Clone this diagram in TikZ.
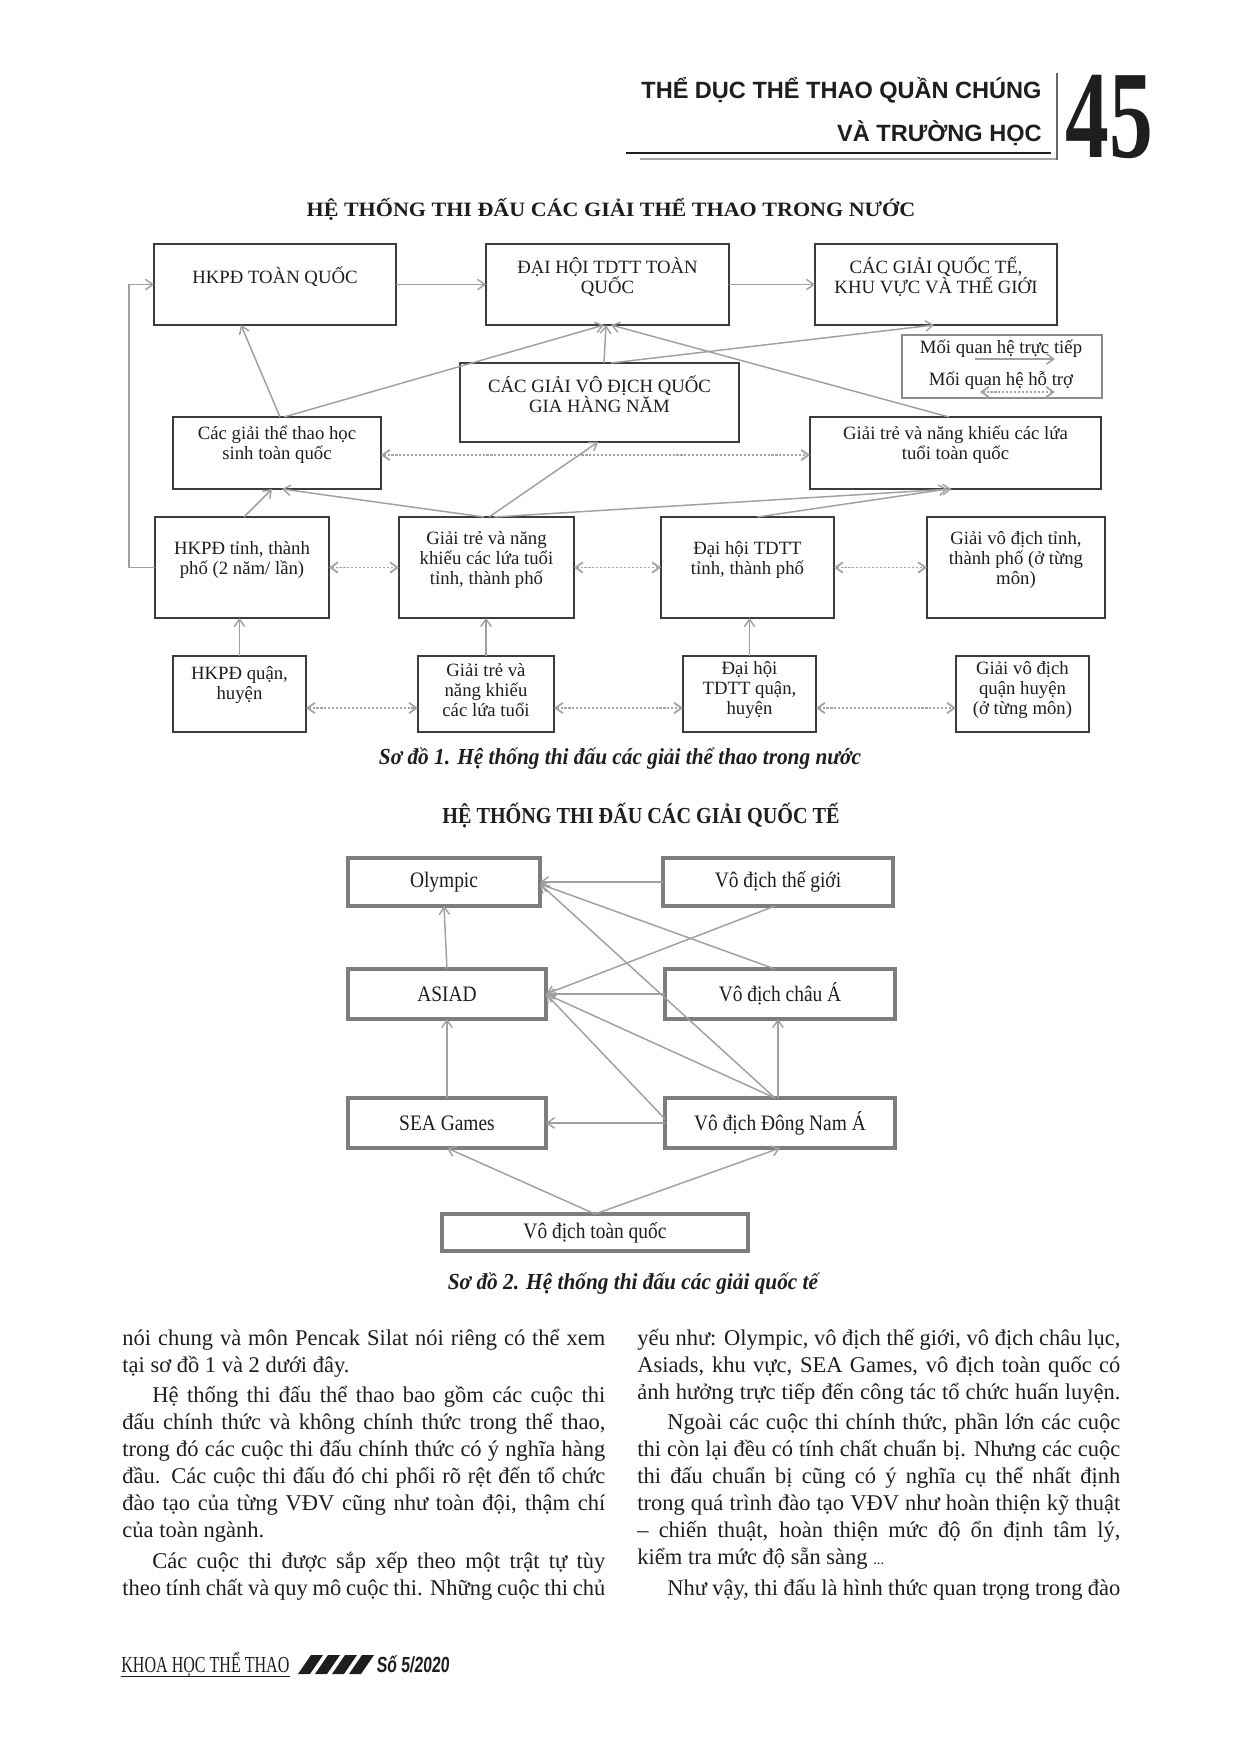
\documentclass[tikz,border=0pt]{standalone}
\usepackage{fontspec}
\setmainfont{Liberation Serif}
\newfontfamily\hdrfont{Liberation Sans}
\newfontfamily\numfont{Liberation Serif}[FakeStretch=0.7]
\newfontfamily\tonefont{Liberation Serif}[FakeStretch=1.08]
\newfontfamily\ttwofont{Liberation Serif}[FakeStretch=0.88]
\newfontfamily\capfont{Liberation Serif}[FakeStretch=0.93]
\newfontfamily\footfont{Liberation Serif}[FakeStretch=0.7]
\newfontfamily\issuefont{Liberation Sans}[FakeStretch=0.72,FakeSlant=0.08]
\usetikzlibrary{arrows.meta,calc}
\definecolor{bxa}{RGB}{60,60,60}
\definecolor{bxb}{RGB}{125,125,125}
\definecolor{cng}{RGB}{160,160,160}
\definecolor{dtg}{RGB}{165,165,165}
\definecolor{lgb}{RGB}{140,140,140}
\definecolor{txc}{RGB}{30,30,30}
\tikzset{
  bx/.style 2 args={minimum width=#1*0.48pt, minimum height=#2*0.48pt},
  boxone/.style={draw=bxa, line width=1.25pt, inner sep=0pt, outer sep=0pt},
  boxtwo/.style={draw=bxb, line width=1.5pt, inner sep=0pt, outer sep=0pt, text=txc, font=\ttwofont\fontsize{10.6}{12}\selectfont},
  legbox/.style={draw=lgb, line width=1.1pt, inner sep=0pt, outer sep=0pt},
  txtone/.style={align=center, inner sep=0pt, text=txc, font=\fontsize{9}{9.6}\selectfont},
  conn/.style={draw=cng, line width=0.7pt, -{Straight Barb[length=3.5pt,width=5pt]}},
  dconn/.style={draw=dtg, line width=0.9pt, dash pattern=on 1pt off 0.9pt, {Straight Barb[length=3.5pt,width=5pt]}-{Straight Barb[length=3.5pt,width=5pt]}},
  body/.style={inner sep=0pt, anchor=base west, text=txc, font=\fontsize{10.8}{12.8}\selectfont},
}
\newcommand{\jl}[4]{\node[body] (#1) at (#2) {\makebox[#3][s]{#4}};}
\begin{document}
\begin{tikzpicture}[x=0.48pt,y=-0.48pt]
\useasboundingbox (0,0) rectangle (1239,1754);
\fill[white] (0,0) rectangle (1239,1754);

% ---------- header ----------
\node[anchor=base east, inner sep=0pt, text=txc, font=\hdrfont\bfseries\fontsize{11.3}{12}\selectfont] (h1) at (1042,98) {THỂ DỤC THỂ THAO QUẦN CHÚNG};
\node[anchor=base east, inner sep=0pt, text=txc, font=\hdrfont\bfseries\fontsize{11.3}{12}\selectfont] (h2) at (1042,141) {VÀ TRƯỜNG HỌC};
\draw[line width=1.3pt, txc] (626,153) -- (1051,153);
\draw[line width=0.8pt, gray!70] (640,159) -- (1056,159);
\draw[line width=0.8pt, gray!80!black] (1057,73) -- (1057,160);
\node[anchor=base west, inner sep=0pt, text=txc, font=\numfont\bfseries\fontsize{60}{60}\selectfont] (pg) at (1065,157) {45};

% ---------- diagram 1 ----------
\node[anchor=base, inner sep=0pt, text=txc, font=\tonefont\bfseries\fontsize{9.8}{11}\selectfont] (t1) at (611,216) {HỆ THỐNG THI ĐẤU CÁC GIẢI THỂ THAO TRONG NƯỚC};

\node[boxone, bx={242}{81}] (A) at (275,284.5) {};
\node[boxone, bx={243}{81}] (B) at (607.5,284.5) {};
\node[boxone, bx={242}{81}] (C) at (936,284.5) {};
\node[txtone] (At) at ($(A)+(0,-8)$) {HKPĐ TOÀN QUỐC};
\node[txtone] (Bt) at ($(B)+(0,-8)$) {ĐẠI HỘI TDTT TOÀN\\QUỐC};
\node[txtone] (Ct) at ($(C)+(0,-8)$) {CÁC GIẢI QUỐC TẾ,\\KHU VỰC VÀ THẾ GIỚI};

\node[boxone, bx={279}{79}] (D) at (599.5,402.5) {};
\node[txtone] (Dt) at ($(D)+(0,-8.5)$) {CÁC GIẢI VÔ ĐỊCH QUỐC\\GIA HÀNG NĂM};
\node[boxone, bx={208}{72}] (E) at (277,453) {};
\node[txtone] (Et) at ($(E)+(0,-8)$) {Các giải thể thao học\\sinh toàn quốc};
\node[boxone, bx={291}{72}] (F) at (955.5,453) {};
\node[txtone] (Ft) at ($(F)+(0,-8)$) {Giải trẻ và năng khiếu các lứa\\tuổi toàn quốc};

\node[legbox, bx={200}{63}] (LG) at (1002,366.5) {};
\node[txtone] (LG1) at (1001,349) {Mối quan hệ trực tiếp};
\node[txtone] (LG2) at (1001,381) {Mối quan hệ hỗ trợ};
\coordinate (lg1s) at (975,359); \coordinate (lg1e) at (1055,359);
\coordinate (lg2s) at (980,392); \coordinate (lg2e) at (1055,392);
\draw[conn] (lg1s) -- (lg1e);
\draw[dconn] (lg2s) -- (lg2e);

\node[boxone, bx={174}{101}] (G) at (242,567.5) {};
\node[txtone] (Gt) at ($(G)+(0,-7.5)$) {HKPĐ tỉnh, thành\\phố (2 năm/ lần)};
\node[boxone, bx={175}{101}] (H) at (486.5,567.5) {};
\node[txtone] (Ht) at ($(H)+(0,-7.5)$) {Giải trẻ và năng\\khiếu các lứa tuổi\\tỉnh, thành phố};
\node[boxone, bx={173}{101}] (I) at (747.5,567.5) {};
\node[txtone] (It) at ($(I)+(0,-7.5)$) {Đại hội TDTT\\tỉnh, thành phố};
\node[boxone, bx={178}{101}] (J) at (1016,567.5) {};
\node[txtone] (Jt) at ($(J)+(0,-7.5)$) {Giải vô địch tỉnh,\\thành phố (ở từng\\môn)};

\node[boxone, bx={133}{76}] (K) at (239.5,694) {};
\node[txtone] (Kt) at ($(K)+(0,-9)$) {HKPĐ quận,\\huyện};
\node[boxone, bx={136}{76}] (L) at (486,694) {};
\node[txtone] (Lt) at ($(L)+(0,-4)$) {Giải trẻ và\\năng khiếu\\các lứa tuổi};
\node[boxone, bx={133}{76}] (M) at (749.5,694) {};
\node[txtone] (Mt) at ($(M)+(0,-4)$) {Đại hội\\TDTT quận,\\huyện};
\node[boxone, bx={133}{76}] (N) at (1022.5,694) {};
\node[txtone] (Nt) at ($(N)+(0,-4)$) {Giải vô địch\\quận huyện\\(ở từng môn)};

% connectors diagram 1
\draw[conn] (A) -- (B);
\draw[conn] (B) -- (C);
\coordinate (lp) at (129,0);
\draw[conn] (G.west) -- (G.west -| lp) |- (A.west);
\draw[conn] ($(E.north)+(3,0)$) -- ($(A.south)+(-34,0)$);
\draw[conn] ($(E.north)+(7,0)$) -- ($(B.south)+(-3.5,0)$);
\draw[conn] ($(D.north)+(4.5,0)$) -- ($(B.south)+(-1.5,0)$);
\draw[conn] ($(D.north)+(11.5,0)$) -- ($(C.south)+(-2,0)$);
\draw[conn] ($(F.north)+(-6.5,0)$) -- ($(B.south)+(3.5,0)$);
\draw[conn] ($(G.north)+(2,0)$) -- ($(E.south)+(-5,0)$);
\draw[conn] ($(H.north)+(-2.5,0)$) -- ($(E.south)+(5,0)$);
\draw[conn] ($(H.north)+(2.5,0)$) -- ($(D.south)+(-1.5,0)$);
\draw[conn] ($(H.north)+(7.5,0)$) -- ($(F.south)+(-4,0)$);
\draw[conn] ($(I.north)+(10,0)$) -- ($(F.south)+(-8,0)$);
\draw[conn] (K.north) -- (K.north |- G.south);
\draw[conn] (L.north) -- (L.north |- H.south);
\draw[conn] (M.north) -- (M.north |- I.south);

\draw[dconn] ($(E.east)+(0,2)$) -- ($(F.west)+(0,2)$);
\draw[dconn] (G.east) -- (H.west);
\draw[dconn] (H.east) -- (I.west);
\draw[dconn] (I.east) -- (J.west);
\draw[dconn] ($(K.east)+(0,14)$) -- ($(L.west)+(0,14)$);
\draw[dconn] ($(L.east)+(0,14)$) -- ($(M.west)+(0,14)$);
\draw[dconn] ($(M.east)+(0,14)$) -- ($(N.west)+(0,14)$);

\node[anchor=base, inner sep=0pt, text=txc, font=\capfont\bfseries\itshape\fontsize{11}{12}\selectfont] (cap1) at (620,764) {Sơ đồ 1. Hệ thống thi đấu các giải thể thao trong nước};

% ---------- diagram 2 ----------
\node[anchor=base, inner sep=0pt, text=txc, font=\ttwofont\bfseries\fontsize{11}{12}\selectfont] (t2) at (641,823) {HỆ THỐNG THI ĐẤU CÁC GIẢI QUỐC TẾ};

\node[boxtwo, bx={192}{48}] (OL) at (444,882) {Olympic};
\node[boxtwo, bx={230}{48}] (WG) at (778,882) {Vô địch thế giới};
\node[boxtwo, bx={198}{50}] (AS) at (447,994) {ASIAD};
\node[boxtwo, bx={230}{50}] (CA) at (780,994) {Vô địch châu Á};
\node[boxtwo, bx={198}{50}] (SE) at (447,1123) {SEA Games};
\node[boxtwo, bx={230}{50}] (DN) at (780,1123) {Vô địch Đông Nam Á};
\node[boxtwo, bx={306}{37}] (TQ) at (595,1232.5) {Vô địch toàn quốc};

\draw[conn] (WG.west) -- (OL.east);
\draw[conn] ($(WG.south)+(-3,0)$) -- (AS.east);
\draw[conn] ($(CA.north)+(-5,0)$) -- ($(OL.east)+(0,2)$);
\draw[conn] (CA.west) -- (AS.east);
\draw[conn] (AS.north) -- (OL.south);
\draw[conn] ($(DN.north)+(-5,0)$) -- ($(OL.east)+(0,2)$);
\draw[conn] ($(DN.north)+(-5,0)$) -- (AS.east);
\draw[conn] ($(DN.west)+(0,-4)$) -- (AS.east);
\draw[conn] ($(DN.north)+(-2,0)$) -- ($(CA.south)+(-2,0)$);
\draw[conn] (SE.north) -- (AS.south);
\draw[conn] (DN.west) -- (SE.east);
\draw[conn] (TQ.north) -- (SE.south);
\draw[conn] (TQ.north) -- (DN.south);

\node[anchor=base, inner sep=0pt, text=txc, font=\capfont\bfseries\itshape\fontsize{11}{12}\selectfont] (cap2) at (633,1289) {Sơ đồ 2. Hệ thống thi đấu các giải quốc tế};

% ---------- body text ----------
\jl{l1}{122,1345}{231.8pt}{nói chung và môn Pencak Silat nói riêng có thể xem}
\node[body] (l2) at (122,1372) {tại sơ đồ 1 và 2 dưới đây.};
\jl{l3}{152,1402}{217.4pt}{Hệ thống thi đấu thể thao bao gồm các cuộc thi}
\jl{l4}{122,1429}{231.8pt}{đấu chính thức và không chính thức trong thể thao,}
\jl{l5}{122,1456}{231.8pt}{trong đó các cuộc thi đấu chính thức có ý nghĩa hàng}
\jl{l6}{122,1483}{231.8pt}{đầu. Các cuộc thi đấu đó chi phối rõ rệt đến tổ chức}
\jl{l7}{122,1510}{231.8pt}{đào tạo của từng VĐV cũng như toàn đội, thậm chí}
\node[body] (l8) at (122,1537) {của toàn ngành.};
\jl{l9}{152,1568}{217.4pt}{Các cuộc thi được sắp xếp theo một trật tự tùy}
\jl{l10}{122,1595}{231.8pt}{theo tính chất và quy mô cuộc thi. Những cuộc thi chủ}

\jl{r1}{637,1345}{231.8pt}{yếu như: Olympic, vô địch thế giới, vô địch châu lục,}
\jl{r2}{637,1372}{231.8pt}{Asiads, khu vực, SEA Games, vô địch toàn quốc có}
\jl{r3}{637,1399}{231.8pt}{ảnh hưởng trực tiếp đến công tác tổ chức huấn luyện.}
\jl{r4}{667,1429}{217.4pt}{Ngoài các cuộc thi chính thức, phần lớn các cuộc}
\jl{r5}{637,1456}{231.8pt}{thi còn lại đều có tính chất chuẩn bị. Nhưng các cuộc}
\jl{r6}{637,1483}{231.8pt}{thi đấu chuẩn bị cũng có ý nghĩa cụ thể nhất định}
\jl{r7}{637,1510}{231.8pt}{trong quá trình đào tạo VĐV như hoàn thiện kỹ thuật}
\jl{r8}{637,1537}{231.8pt}{– chiến thuật, hoàn thiện mức độ ổn định tâm lý,}
\node[body] (r9) at (637,1564) {kiểm tra mức độ sẵn sàng {\fontsize{7}{8}\selectfont...}};
\jl{r10}{667,1595}{217.4pt}{Như vậy, thi đấu là hình thức quan trọng trong đào}

% ---------- footer ----------
\node[anchor=base west, inner sep=0pt, text=txc, font=\footfont\fontsize{11}{12}\selectfont] (kh) at (121,1672) {KHOA HỌC THỂ THAO};
\draw[line width=0.5pt, txc] ($(kh.base west)+(0,4)$) -- ($(kh.base east)+(0,4)$);
\foreach \i in {0,1,2,3} {
  \fill[txc] (298+17*\i,1674) -- (310+17*\i,1674) -- (323+17*\i,1655) -- (311+17*\i,1655) -- cycle;
}
\node[anchor=base west, inner sep=0pt, text=txc, font=\issuefont\bfseries\fontsize{10.5}{12}\selectfont] (so) at (376,1672) {Số 5/2020};
\end{tikzpicture}
\end{document}
